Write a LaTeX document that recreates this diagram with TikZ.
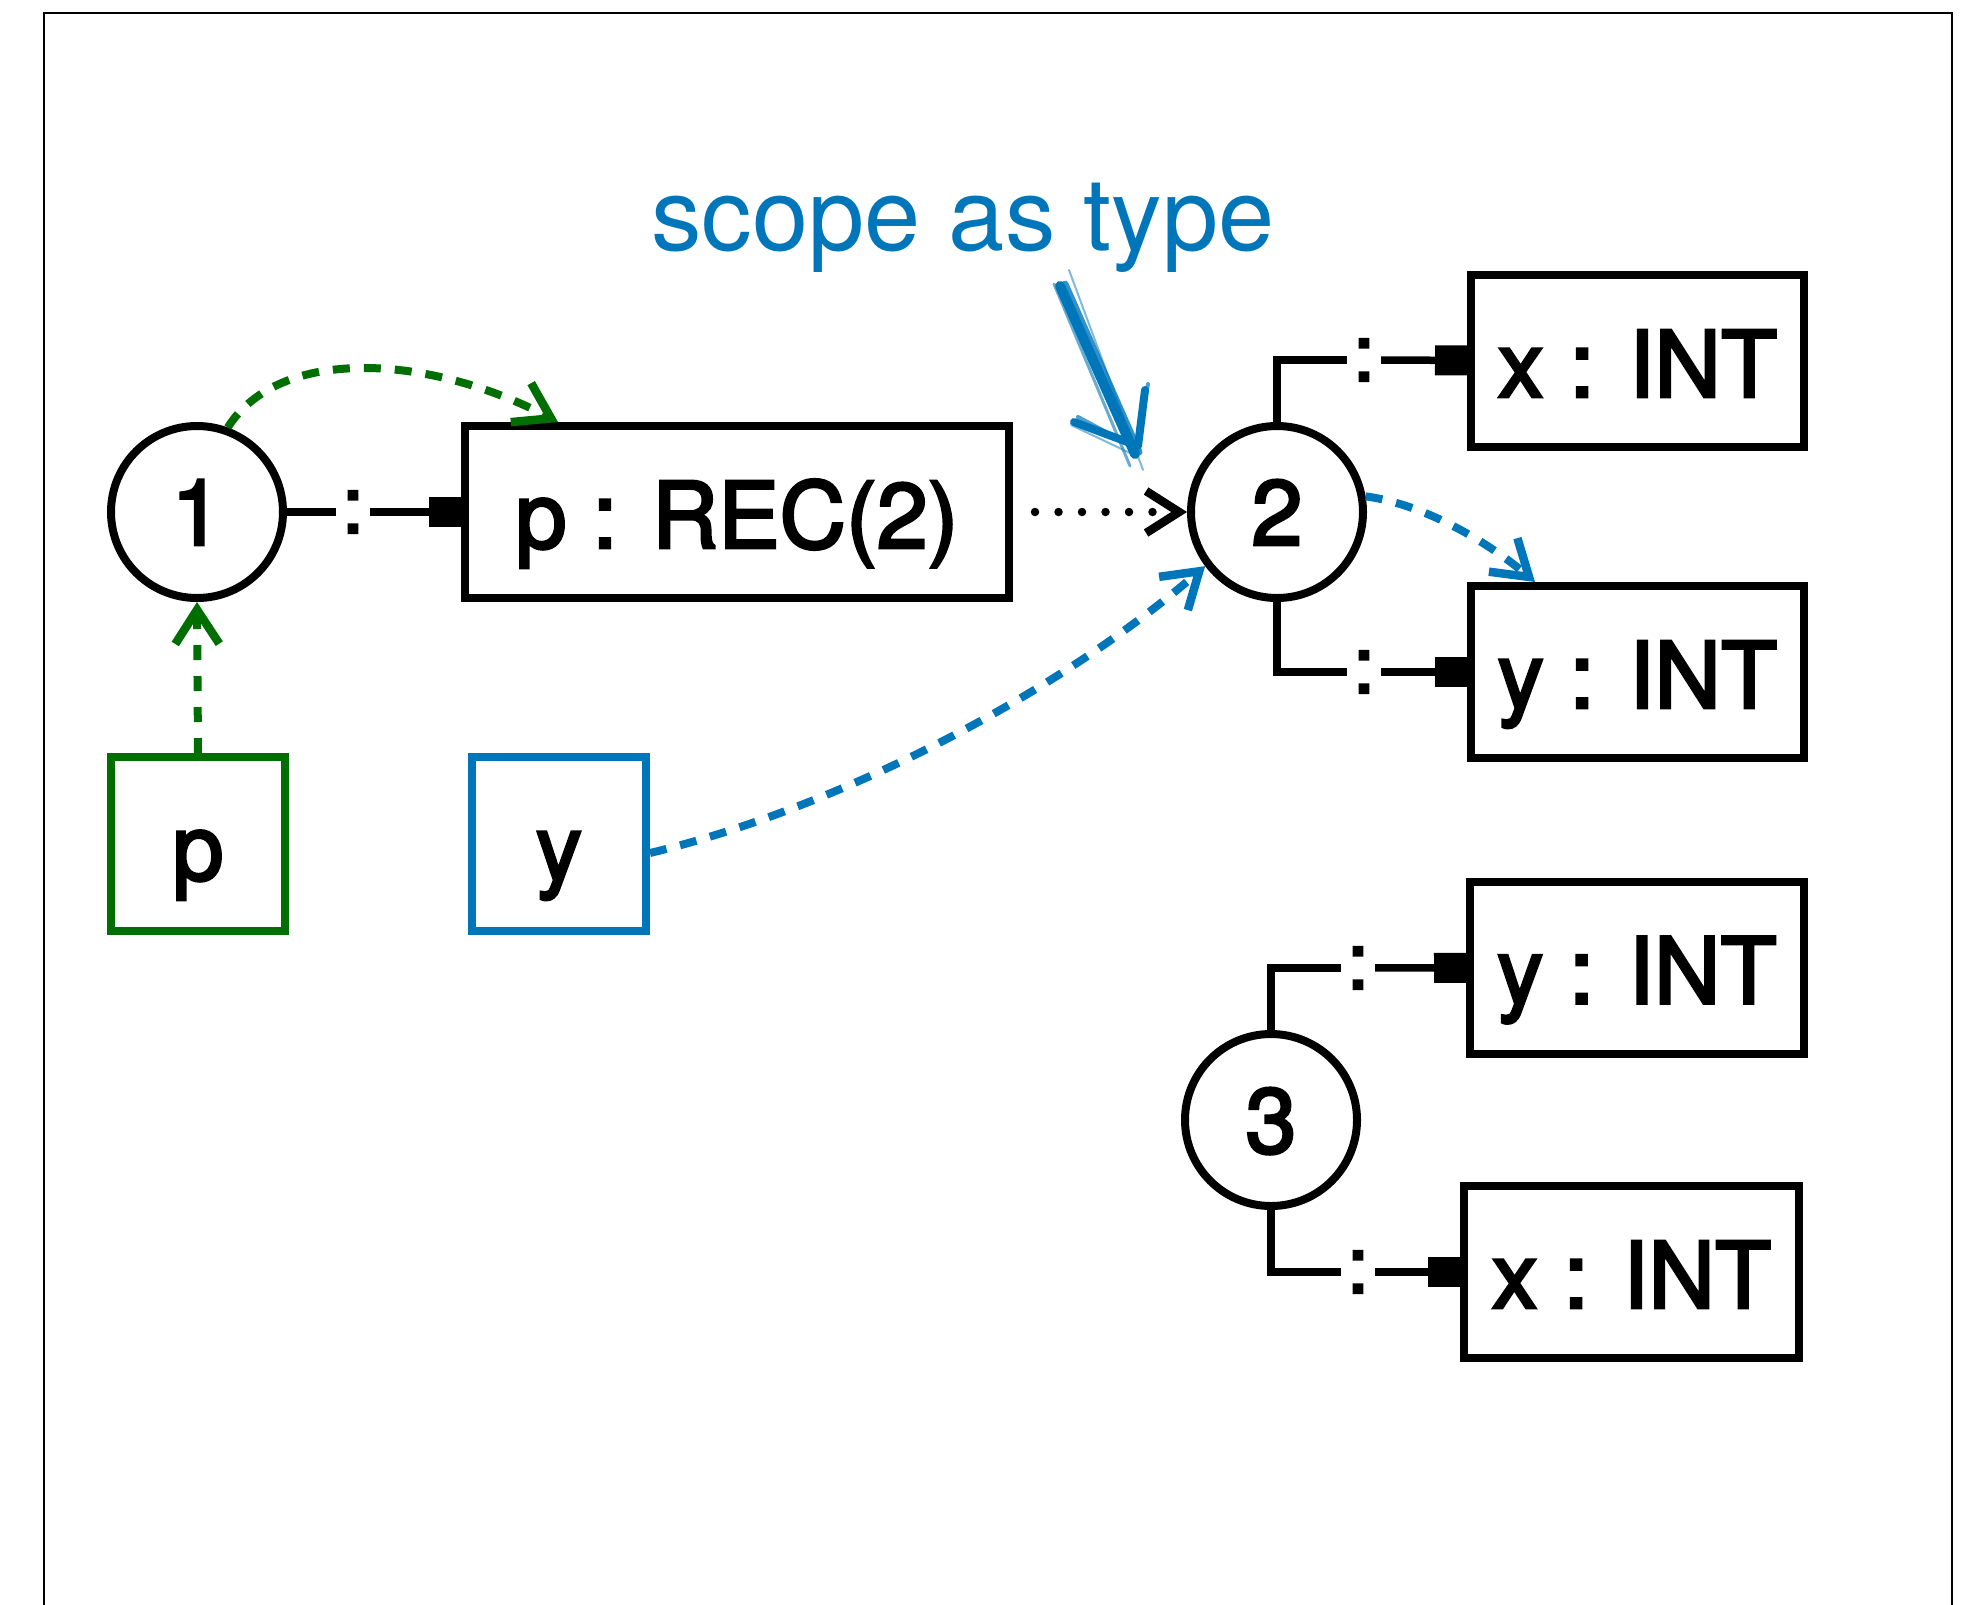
\documentclass[tikz,border=0pt]{standalone}
\usepackage{fontspec}
\setmainfont{TeX Gyre Heros}
\newfontfamily\lblfont{TeX Gyre Heros}[FakeBold=3]
\usetikzlibrary{arrows.meta}
\definecolor{scopeblue}{RGB}{0,118,186}
\definecolor{declgreen}{RGB}{0,110,0}
\begin{document}
\begin{tikzpicture}[x=1pt,y=-1pt,
  every node/.style={inner sep=0pt},
  lbl/.style={font=\lblfont\fontsize{92}{100}\selectfont},
  scopenode/.style={circle, draw, line width=8pt, minimum size=172pt, lbl, text height=66pt, text depth=0pt},
  declbox/.style={rectangle, draw, line width=8pt, minimum height=172pt, lbl, text height=72pt, text depth=0pt},
  refbox/.style={declbox, minimum width=174pt, minimum height=174pt},
  colonmark/.style={font=\lblfont\fontsize{80}{80}\selectfont, outer sep=6pt},
  conn/.style={line width=7.5pt},
  declconn/.style={conn, -{Square[length=32pt,width=30pt]}},
  dashconn/.style={line width=8pt, dash pattern=on 17pt off 14pt},
  barb/.style={-{Straight Barb[length=34pt,width=44pt,line width=8.5pt]}},
  sketch/.style={draw=scopeblue, line cap=round, line join=round},
]
\useasboundingbox (0,0) rectangle (1972,1604);

% outer frame (open at the bottom)
\draw[line width=2.5pt] (44,1612) -- (44,13) -- (1952,13) -- (1952,1612);

% scopes
\node[scopenode] (c1) at (197,512) {1};
\node[scopenode] (c2) at (1277,512) {2};
\node[scopenode] (c3) at (1271,1120) {3};

% declarations
\node[declbox, minimum width=544pt] (rec) at (737,512) {p : REC(2)};
\node[declbox, minimum width=333pt] (x2) at (1637.5,361) {x : INT};
\node[declbox, minimum width=333pt] (y2) at (1637.5,672) {y : INT};
\node[declbox, minimum width=334pt] (y3) at (1637,967.5) {y : INT};
\node[declbox, minimum width=335pt] (x3) at (1631.5,1272) {x : INT};

% references
\node[refbox, draw=declgreen] (pref) at (198,844) {p};
\node[refbox, draw=scopeblue] (yref) at (559,844) {y};

% declaration edges
\node[colonmark] (k1) at (353,512) {:};
\draw[conn] (c1) -- (k1);
\draw[declconn] (k1) -- (rec);

\node[colonmark] (k2) at (1364,360) {:};
\draw[conn] (c2.north) |- (k2);
\draw[declconn] (k2) -- (x2);

\node[colonmark] (k3) at (1364,672) {:};
\draw[conn] (c2.south) |- (k3);
\draw[declconn] (k3) -- (y2);

\node[colonmark] (k4) at (1358,968) {:};
\draw[conn] (c3.north) |- (k4);
\draw[declconn] (k4) -- (y3);

\node[colonmark] (k5) at (1358,1272) {:};
\draw[conn] (c3.south) |- (k5);
\draw[declconn] (k5) -- (x3);

% type of p is scope 2
\draw[line width=8.5pt, line cap=round, dash pattern=on 0pt off 23.5pt, shorten <=22pt,
      -{Straight Barb[length=33pt,width=42pt,line width=8.5pt]}] (rec.east) -- (c2.west);

% resolution of p
\draw[dashconn, declgreen, dash pattern=on 15pt off 16pt, barb] (pref.north) -- (c1.south);
\draw[dashconn, declgreen, barb] (c1.70) .. controls (280,345) and (430,355) .. ([xshift=97pt]rec.north west);

% resolution of y
\draw[dashconn, scopeblue, barb] ([yshift=-9pt]yref.east) .. controls (830,810) and (1050,700) .. (c2.217);
\draw[dashconn, scopeblue, barb] (c2.10) .. controls (1430,505) and (1495,548) .. ([xshift=68pt]y2.north west);

% annotation with a crayon-like arrow
\node[anchor=base, text=scopeblue, font=\fontsize{101}{110}\selectfont] (note) at (963,250) {scope as type};
\coordinate (skA) at (1060,286);
\coordinate (skT) at (1138,446);
\coordinate (skR) at (1145,390);
\coordinate (skL) at (1074,422);
\draw[sketch, line width=10pt] (skA) -- ([xshift=-3pt,yshift=-8pt]skT);
\draw[sketch, line width=7pt, opacity=0.8] ([xshift=5pt,yshift=2pt]skA) -- ([xshift=1pt,yshift=-6pt]skT);
\draw[sketch, line width=3pt, opacity=0.6] ([xshift=-6pt,yshift=2pt]skA) -- ([xshift=-8pt,yshift=-20pt]skT);
\draw[sketch, line width=2pt, opacity=0.5] ([xshift=9pt,yshift=16pt]skA) -- ([xshift=5pt,yshift=-24pt]skT);
\draw[sketch, line width=8pt] (skR) -- (skT) -- (skL);
\draw[sketch, line width=4pt, opacity=0.7] ([xshift=3pt,yshift=6pt]skR) -- ([xshift=-2pt,yshift=-3pt]skT);
\draw[sketch, line width=4pt, opacity=0.7] ([xshift=4pt,yshift=5pt]skL) -- ([xshift=-4pt,yshift=-1pt]skT);
\draw[sketch, line width=2pt, opacity=0.5] ([xshift=-3pt,yshift=-3pt]skL) -- ([xshift=-8pt,yshift=-7pt]skT);
\end{tikzpicture}
\end{document}
